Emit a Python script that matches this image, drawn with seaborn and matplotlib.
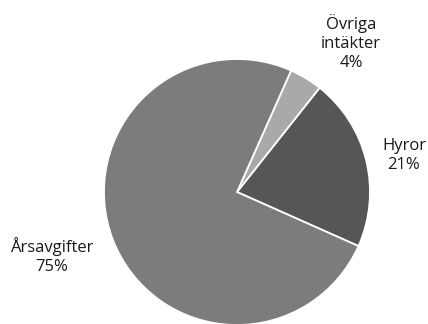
import matplotlib
matplotlib.use("Agg")
import matplotlib.pyplot as plt
import seaborn as sns

categories = ["Hyror", "Övriga intäkter", "Årsavgifter"]
values = [21, 4, 75]
label_texts = ["Hyror\n21%", "Övriga\nintäkter\n4%", "Årsavgifter\n75%"]
colors = ["#565656", "#a9a9a9", "#7c7c7c"]

sns.set_theme(style="white")
plt.rcParams['font.family'] = ['Open Sans', 'DejaVu Sans']

W, H = 428, 324
fig = plt.figure(figsize=(W / 100, H / 100), dpi=100)
cx, cy, r = 237, 192, 133
ax = fig.add_axes([(cx - r) / W, (H - cy - r) / H, 2 * r / W, 2 * r / H])
ax.pie(values, colors=colors, startangle=-24, counterclock=True,
       radius=1, wedgeprops=dict(edgecolor="white", linewidth=1.3))
ax.set_xlim(-1, 1)
ax.set_ylim(-1, 1)
ax.set_aspect("equal")
ax.axis("off")

label_pos = [(404, 156), (351, 43), (52, 256)]
for txt, (x, y) in zip(label_texts, label_pos):
    fig.text(x / W, 1 - y / H, txt, ha="center", va="center",
             fontsize=12, color="#1a1a1a", linespacing=1.25)

fig.savefig("out.png", dpi=100, facecolor="white")
